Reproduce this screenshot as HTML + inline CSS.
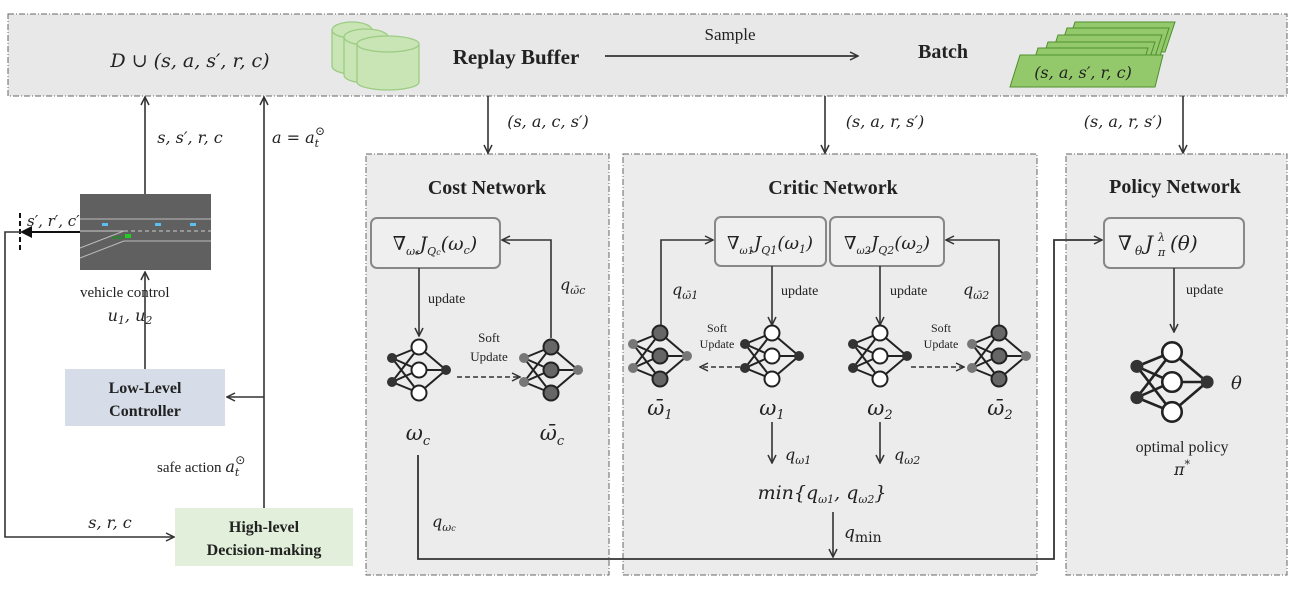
<!DOCTYPE html>
<html><head><meta charset="utf-8"><style>
html,body{margin:0;padding:0;background:#fff;}
svg{display:block;}
text{font-family:"Liberation Serif",serif;fill:#222;}
.m{font-family:"DejaVu Serif","Liberation Serif",serif;font-style:italic;}
.b{font-weight:bold;}
</style></head><body>
<svg width="1296" height="589" viewBox="0 0 1296 589" xmlns="http://www.w3.org/2000/svg">
<defs>
<marker id="ar" markerWidth="10" markerHeight="10" refX="9" refY="5" orient="auto" markerUnits="userSpaceOnUse">
<path d="M1,1 L9,5 L1,9" fill="none" stroke="#333" stroke-width="1.5"/></marker>
<marker id="ab" markerWidth="12" markerHeight="12" refX="10" refY="6" orient="auto" markerUnits="userSpaceOnUse">
<path d="M0,0 L12,6 L0,12 z" fill="#111"/></marker>
<g id="on">
<g stroke="#222" stroke-width="2">
<line x1="-27" y1="-12" x2="0" y2="-23"/><line x1="-27" y1="-12" x2="0" y2="0"/><line x1="-27" y1="-12" x2="0" y2="23"/>
<line x1="-27" y1="12" x2="0" y2="-23"/><line x1="-27" y1="12" x2="0" y2="0"/><line x1="-27" y1="12" x2="0" y2="23"/>
<line x1="0" y1="-23" x2="27" y2="0"/><line x1="0" y1="0" x2="27" y2="0"/><line x1="0" y1="23" x2="27" y2="0"/>
</g>
<circle cx="-27" cy="-12" r="5" fill="#333"/><circle cx="-27" cy="12" r="5" fill="#333"/>
<circle cx="0" cy="-23" r="7.5" fill="#fff" stroke="#222" stroke-width="2"/><circle cx="0" cy="0" r="7.5" fill="#fff" stroke="#222" stroke-width="2"/><circle cx="0" cy="23" r="7.5" fill="#fff" stroke="#222" stroke-width="2"/>
<circle cx="27" cy="0" r="5" fill="#333"/>
</g>
<g id="tg">
<g stroke="#222" stroke-width="2">
<line x1="-27" y1="-12" x2="0" y2="-23"/><line x1="-27" y1="-12" x2="0" y2="0"/><line x1="-27" y1="-12" x2="0" y2="23"/>
<line x1="-27" y1="12" x2="0" y2="-23"/><line x1="-27" y1="12" x2="0" y2="0"/><line x1="-27" y1="12" x2="0" y2="23"/>
<line x1="0" y1="-23" x2="27" y2="0"/><line x1="0" y1="0" x2="27" y2="0"/><line x1="0" y1="23" x2="27" y2="0"/>
</g>
<circle cx="-27" cy="-12" r="5" fill="#777"/><circle cx="-27" cy="12" r="5" fill="#777"/>
<circle cx="0" cy="-23" r="7.5" fill="#666" stroke="#222" stroke-width="2"/><circle cx="0" cy="0" r="7.5" fill="#666" stroke="#222" stroke-width="2"/><circle cx="0" cy="23" r="7.5" fill="#666" stroke="#222" stroke-width="2"/>
<circle cx="27" cy="0" r="5" fill="#777"/>
</g>
</defs>

<rect x="8" y="14" width="1279" height="82" fill="#e8e8e8" stroke="#666" stroke-dasharray="6,2,1,2"/>
<rect x="366" y="154" width="243" height="421" fill="#ececec" stroke="#666" stroke-dasharray="6,2,1,2"/>
<rect x="623" y="154" width="414" height="421" fill="#ececec" stroke="#666" stroke-dasharray="6,2,1,2"/>
<rect x="1066" y="154" width="221" height="421" fill="#ececec" stroke="#666" stroke-dasharray="6,2,1,2"/>

<text x="190" y="67" text-anchor="middle" font-size="19" class="m">D ∪ (s, a, s′, r, c)</text>
<g fill="#c9e5b5" stroke="#9ccc83" stroke-width="1.3">
<path d="M332,30 v36 a20,8 0 0 0 40,0 v-36"/><ellipse cx="352" cy="30" rx="20" ry="8"/>
<path d="M344,37 v38 a22,8 0 0 0 44,0 v-38"/><ellipse cx="366" cy="37" rx="22" ry="8"/>
<path d="M357,44 v38 a31,8 0 0 0 62,0 v-38"/><ellipse cx="388" cy="44" rx="31" ry="8"/>
</g>
<text x="516" y="64" text-anchor="middle" font-size="21" class="b">Replay Buffer</text>
<text x="730" y="40" text-anchor="middle" font-size="17">Sample</text>
<line x1="605" y1="56" x2="858" y2="56" stroke="#333" stroke-width="1.8" marker-end="url(#ar)"/>
<text x="943" y="58" text-anchor="middle" font-size="20" class="b">Batch</text>
<g fill="#93c96b" stroke="#4f8f2f" stroke-width="1">
<polygon points="1075,22 1175,22 1165,52 1065,52"/>
<polygon points="1067,28 1169,28 1159,59 1057,59"/>
<polygon points="1058,35 1162,35 1152,66 1048,66"/>
<polygon points="1048,42 1155,42 1145,73 1038,73"/>
<polygon points="1038,48 1148,48 1138,80 1028,80"/>
<polygon points="1020,55 1163,55 1155,87 1010,87"/>
</g>
<text x="1083" y="78" text-anchor="middle" font-size="16" class="m">(s, a, s′, r, c)</text>

<line x1="488" y1="96" x2="488" y2="153" stroke="#333" stroke-width="1.6" marker-end="url(#ar)"/>
<text x="548" y="127" text-anchor="middle" font-size="16" class="m">(s, a, c, s′)</text>
<line x1="825" y1="96" x2="825" y2="153" stroke="#333" stroke-width="1.6" marker-end="url(#ar)"/>
<text x="885" y="127" text-anchor="middle" font-size="16" class="m">(s, a, r, s′)</text>
<line x1="1183" y1="96" x2="1183" y2="153" stroke="#333" stroke-width="1.6" marker-end="url(#ar)"/>
<text x="1123" y="127" text-anchor="middle" font-size="16" class="m">(s, a, r, s′)</text>

<line x1="145" y1="194" x2="145" y2="97" stroke="#333" stroke-width="1.6" marker-end="url(#ar)"/>
<text x="190" y="143" text-anchor="middle" font-size="16" class="m">s, s′, r, c</text>
<line x1="264" y1="508" x2="264" y2="97" stroke="#333" stroke-width="1.6" marker-end="url(#ar)"/>
<text x="272" y="143" font-size="16" class="m">a = a<tspan font-size="11" dy="4">t</tspan><tspan font-size="12" dy="-12" dx="-4">⊙</tspan></text>
<rect x="80" y="194" width="131" height="76" fill="#606060"/>
<line x1="80" y1="219" x2="211" y2="219" stroke="#bbb" stroke-width="1"/>
<line x1="124" y1="231" x2="211" y2="231" stroke="#ccc" stroke-width="1" stroke-dasharray="4,3"/>
<line x1="80" y1="231" x2="124" y2="231" stroke="#ccc" stroke-width="1"/>
<line x1="124" y1="241" x2="211" y2="241" stroke="#bbb" stroke-width="1"/>
<line x1="80" y1="248" x2="124" y2="231" stroke="#bbb" stroke-width="1"/>
<line x1="80" y1="258" x2="124" y2="241" stroke="#bbb" stroke-width="1"/>
<rect x="102" y="223" width="6" height="3" fill="#5bc0f0"/><rect x="155" y="223" width="6" height="3" fill="#5bc0f0"/><rect x="190" y="223" width="6" height="3" fill="#5bc0f0"/>
<rect x="125" y="234" width="6" height="4" fill="#22cc22"/><rect x="112" y="236" width="12" height="3" fill="#3a7a3a"/>
<line x1="80" y1="232" x2="22" y2="232" stroke="#111" stroke-width="2" marker-end="url(#ab)"/>
<line x1="20" y1="213" x2="20" y2="252" stroke="#111" stroke-width="2" stroke-dasharray="5,3"/>
<text x="27" y="226" font-size="15" class="m">s′, r′, c′</text>
<polyline points="22,232 5,232 5,537 174,537" fill="none" stroke="#333" stroke-width="1.6" marker-end="url(#ar)"/>
<text x="110" y="528" text-anchor="middle" font-size="16" class="m">s, r, c</text>
<text x="80" y="297" font-size="15">vehicle control</text>
<text x="130" y="321" text-anchor="middle" font-size="16" class="m">u<tspan font-size="11" dy="3">1</tspan><tspan dy="-3">, u</tspan><tspan font-size="11" dy="3">2</tspan></text>
<line x1="145" y1="369" x2="145" y2="272" stroke="#333" stroke-width="1.6" marker-end="url(#ar)"/>
<rect x="65" y="369" width="160" height="57" fill="#d6dde8"/>
<text x="145" y="393" text-anchor="middle" font-size="16" class="b">Low-Level</text>
<text x="145" y="416" text-anchor="middle" font-size="16" class="b">Controller</text>
<line x1="264" y1="397" x2="227" y2="397" stroke="#333" stroke-width="1.6" marker-end="url(#ar)"/>
<text x="157" y="472" font-size="15">safe action <tspan class="m" font-size="16">a</tspan><tspan class="m" font-size="11" dy="4">t</tspan><tspan font-size="12" dy="-12" dx="-4">⊙</tspan></text>
<rect x="175" y="508" width="178" height="58" fill="#e2efda"/>
<text x="264" y="532" text-anchor="middle" font-size="16" class="b">High-level</text>
<text x="264" y="555" text-anchor="middle" font-size="16" class="b">Decision-making</text>

<text x="487" y="194" text-anchor="middle" font-size="20" class="b">Cost Network</text>
<rect x="371" y="218" width="129" height="50" rx="6" fill="#efefef" stroke="#888" stroke-width="2"/>
<text x="435" y="250" text-anchor="middle" font-size="19" class="m">∇<tspan font-size="11" dy="5">ω<tspan font-size="8">c</tspan></tspan><tspan dy="-5">J</tspan><tspan font-size="11" dy="5">Q<tspan font-size="8">c</tspan></tspan><tspan dy="-5">(ω</tspan><tspan font-size="11" dy="4">c</tspan><tspan dy="-4">)</tspan></text>
<line x1="419" y1="268" x2="419" y2="336" stroke="#333" stroke-width="1.6" marker-end="url(#ar)"/>
<text x="428" y="303" font-size="14">update</text>
<polyline points="551,338 551,240 502,240" fill="none" stroke="#333" stroke-width="1.6" marker-end="url(#ar)"/>
<text x="560" y="290" font-size="16" class="m">q<tspan font-size="11" dy="4">ω̄c</tspan></text>
<use href="#on" x="419" y="370"/>
<use href="#tg" x="551" y="370"/>
<line x1="457" y1="377" x2="520" y2="377" stroke="#333" stroke-width="1.5" stroke-dasharray="5,3" marker-end="url(#ar)"/>
<text x="489" y="342" text-anchor="middle" font-size="13">Soft</text>
<text x="489" y="361" text-anchor="middle" font-size="13">Update</text>
<text x="418" y="440" text-anchor="middle" font-size="21" class="m">ω<tspan font-size="13" dy="5">c</tspan></text>
<text x="552" y="440" text-anchor="middle" font-size="21" class="m">ω̄<tspan font-size="13" dy="5">c</tspan></text>
<polyline points="418,455 418,559 1054,559 1054,240 1102,240" fill="none" stroke="#333" stroke-width="1.8" marker-end="url(#ar)"/>
<text x="432" y="527" font-size="16" class="m">q<tspan font-size="11" dy="4">ω<tspan font-size="8">c</tspan></tspan></text>

<text x="833" y="194" text-anchor="middle" font-size="20" class="b">Critic Network</text>
<rect x="715" y="217" width="111" height="49" rx="6" fill="#efefef" stroke="#888" stroke-width="2"/>
<rect x="830" y="217" width="114" height="49" rx="6" fill="#efefef" stroke="#888" stroke-width="2"/>
<text x="770" y="249" text-anchor="middle" font-size="18" class="m">∇<tspan font-size="10" dy="5">ω1</tspan><tspan dy="-5">J</tspan><tspan font-size="11" dy="5">Q1</tspan><tspan dy="-5">(ω</tspan><tspan font-size="11" dy="4">1</tspan><tspan dy="-4">)</tspan></text>
<text x="887" y="249" text-anchor="middle" font-size="18" class="m">∇<tspan font-size="10" dy="5">ω2</tspan><tspan dy="-5">J</tspan><tspan font-size="11" dy="5">Q2</tspan><tspan dy="-5">(ω</tspan><tspan font-size="11" dy="4">2</tspan><tspan dy="-4">)</tspan></text>
<polyline points="661,326 661,240 713,240" fill="none" stroke="#333" stroke-width="1.6" marker-end="url(#ar)"/>
<polyline points="999,326 999,240 946,240" fill="none" stroke="#333" stroke-width="1.6" marker-end="url(#ar)"/>
<text x="672" y="295" font-size="16" class="m">q<tspan font-size="11" dy="4">ω̄1</tspan></text>
<text x="963" y="295" font-size="16" class="m">q<tspan font-size="11" dy="4">ω̄2</tspan></text>
<line x1="772" y1="266" x2="772" y2="325" stroke="#333" stroke-width="1.6" marker-end="url(#ar)"/>
<line x1="880" y1="266" x2="880" y2="325" stroke="#333" stroke-width="1.6" marker-end="url(#ar)"/>
<text x="781" y="295" font-size="14">update</text>
<text x="890" y="295" font-size="14">update</text>
<use href="#tg" x="660" y="356"/>
<use href="#on" x="772" y="356"/>
<use href="#on" x="880" y="356"/>
<use href="#tg" x="999" y="356"/>
<line x1="740" y1="367" x2="700" y2="367" stroke="#333" stroke-width="1.5" stroke-dasharray="5,3" marker-end="url(#ar)"/>
<line x1="911" y1="367" x2="964" y2="367" stroke="#333" stroke-width="1.5" stroke-dasharray="5,3" marker-end="url(#ar)"/>
<text x="717" y="332" text-anchor="middle" font-size="12">Soft</text>
<text x="717" y="348" text-anchor="middle" font-size="12">Update</text>
<text x="941" y="332" text-anchor="middle" font-size="12">Soft</text>
<text x="941" y="348" text-anchor="middle" font-size="12">Update</text>
<text x="660" y="415" text-anchor="middle" font-size="21" class="m">ω̄<tspan font-size="13" dy="4">1</tspan></text>
<text x="772" y="415" text-anchor="middle" font-size="21" class="m">ω<tspan font-size="13" dy="4">1</tspan></text>
<text x="880" y="415" text-anchor="middle" font-size="21" class="m">ω<tspan font-size="13" dy="4">2</tspan></text>
<text x="1000" y="415" text-anchor="middle" font-size="21" class="m">ω̄<tspan font-size="13" dy="4">2</tspan></text>
<line x1="772" y1="422" x2="772" y2="463" stroke="#333" stroke-width="1.6" marker-end="url(#ar)"/>
<line x1="880" y1="422" x2="880" y2="463" stroke="#333" stroke-width="1.6" marker-end="url(#ar)"/>
<text x="785" y="460" font-size="16" class="m">q<tspan font-size="11" dy="4">ω1</tspan></text>
<text x="894" y="460" font-size="16" class="m">q<tspan font-size="11" dy="4">ω2</tspan></text>
<text x="822" y="499" text-anchor="middle" font-size="19" class="m">min{q<tspan font-size="11" dy="4">ω1</tspan><tspan dy="-4">, q</tspan><tspan font-size="11" dy="4">ω2</tspan><tspan dy="-4">}</tspan></text>
<line x1="833" y1="512" x2="833" y2="557" stroke="#333" stroke-width="1.6" marker-end="url(#ar)"/>
<text x="844" y="538" font-size="17" class="m">q<tspan font-size="14" font-style="normal" dy="4">min</tspan></text>

<text x="1175" y="193" text-anchor="middle" font-size="20" class="b">Policy Network</text>
<rect x="1104" y="218" width="140" height="50" rx="6" fill="#efefef" stroke="#888" stroke-width="2"/>
<text x="1118" y="250" font-size="20" class="m">∇</text>
<text x="1135" y="255" font-size="12" class="m">θ</text>
<text x="1145" y="250" font-size="20" class="m">J</text>
<text x="1158" y="241" font-size="11" class="m">λ</text>
<text x="1158" y="256" font-size="11" class="m">π</text>
<text x="1170" y="250" font-size="20" class="m">(θ)</text>
<line x1="1174" y1="268" x2="1174" y2="332" stroke="#333" stroke-width="1.6" marker-end="url(#ar)"/>
<text x="1186" y="294" font-size="14">update</text>
<use href="#on" transform="translate(1172,382) scale(1.3)"/>
<text x="1231" y="389" font-size="18" class="m">θ</text>
<text x="1182" y="452" text-anchor="middle" font-size="16">optimal policy</text>
<text x="1182" y="475" text-anchor="middle" font-size="16" class="m">π<tspan font-size="11" dy="-7">*</tspan></text>
</svg>
</body></html>
